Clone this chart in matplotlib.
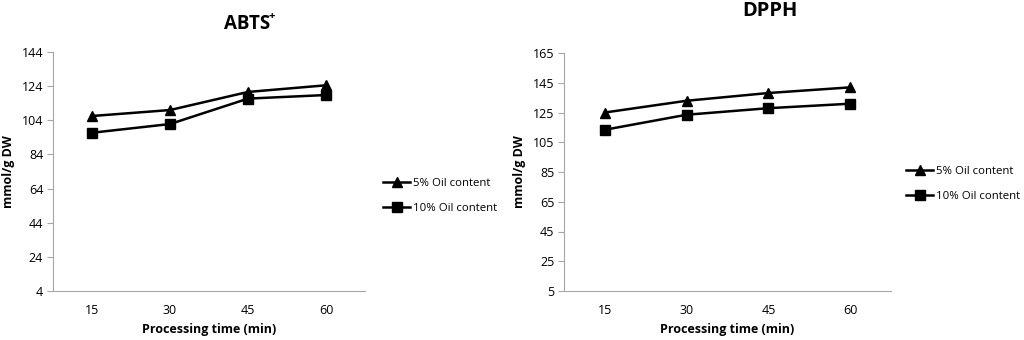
import matplotlib

matplotlib.use("Agg")

import matplotlib.pyplot as plt

plt.rcParams["font.family"] = ["Open Sans", "DejaVu Sans"]

times = ["15", "30", "45", "60"]
labels = ["5% Oil content", "10% Oil content"]

abts_5 = [106.5, 110.0, 120.6, 124.5]
abts_10 = [96.7, 101.8, 116.7, 118.8]
dpph_5 = [125.0, 132.9, 138.1, 141.9]
dpph_10 = [113.4, 123.5, 127.9, 130.9]

abts_ticks = [4, 24, 44, 64, 84, 104, 124, 144]
dpph_ticks = [5, 25, 45, 65, 85, 105, 125, 145, 165]

GRID = "#a6a6a6"


def panel(ax, s5, s10, yticks, legend_anchor):
    x = list(range(1, len(times) + 1))
    ax.plot(x, s5, color="black", lw=1.8, marker="^", ms=7, label=labels[0])
    ax.plot(x, s10, color="black", lw=1.8, marker="s", ms=7, label=labels[1])
    ax.set_xlim(0.5, len(times) + 0.5)
    ax.set_ylim(yticks[0], yticks[-1])
    ax.set_yticks(yticks)
    ax.set_xticks(x)
    ax.set_xticklabels(times)
    for s in ("top", "right"):
        ax.spines[s].set_visible(False)
    for s in ("left", "bottom"):
        ax.spines[s].set_color(GRID)
        ax.spines[s].set_linewidth(0.8)
    ax.tick_params(axis="y", length=4, color=GRID, labelsize=9, pad=3)
    ax.tick_params(axis="x", length=0, labelsize=9, pad=9)
    ax.set_xlabel("Processing time (min)", fontsize=9, fontweight="bold", labelpad=5)
    ax.set_ylabel("mmol/g DW", fontsize=9, fontweight="bold", labelpad=5)
    ax.legend(loc="center left", bbox_to_anchor=legend_anchor, frameon=False,
              fontsize=8.2, handlelength=2.4, handletextpad=0.25, labelspacing=1.2,
              borderaxespad=0, borderpad=0)
    return ax


fig = plt.figure(figsize=(10.24, 3.4), dpi=100)
ax1 = fig.add_axes([53 / 1024, 1 - 291 / 340, 312 / 1024, 239 / 340])
ax2 = fig.add_axes([564 / 1024, 1 - 291 / 340, 327 / 1024, 238 / 340])

panel(ax1, abts_5, abts_10, abts_ticks, (1.058, 0.397))
panel(ax2, dpph_5, dpph_10, dpph_ticks, (1.046, 0.45))

fig.text(247 / 1024, 1 - 24 / 340, "ABTS", ha="center", va="center",
         fontsize=13.5, fontweight="bold")
fig.text(272 / 1024, 1 - 17 / 340, "+", ha="center", va="center",
         fontsize=8, fontweight="bold")
fig.text(770 / 1024, 1 - 11 / 340, "DPPH", ha="center", va="center",
         fontsize=14.5, fontweight="bold")

fig.savefig("out.png", dpi=100, facecolor="white")
